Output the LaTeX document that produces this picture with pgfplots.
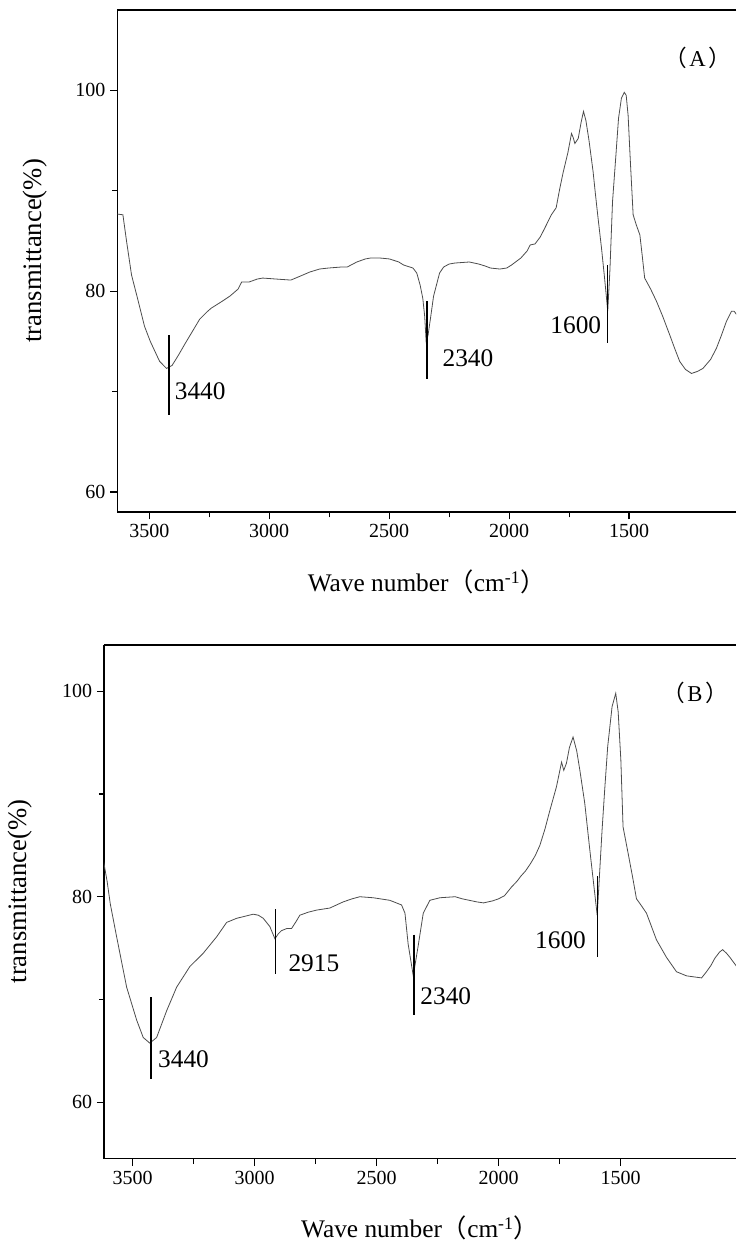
\documentclass[border=0pt]{standalone}
\usepackage{fontspec}
\setmainfont{Liberation Serif}
\newfontfamily\cjk{Noto Sans CJK SC}
\usepackage{pgfplots}
\pgfplotsset{compat=1.18}

\pgfplotsset{
  irspec/.style={
    scale only axis, anchor=south west,
    x dir=reverse,
    axis x line*=box, axis y line*=left,
    xtick pos=left, ytick pos=left,
    axis line style={black,line width=1.1pt},
    tick align=outside,
    tick style={black,line width=0.9pt},
    major tick length=5.5pt, minor tick length=4pt,
    xtick={1500,2000,2500,3000,3500}, minor x tick num=1,
    ytick={60,80,100}, minor y tick num=1,
    tick label style={font=\fontsize{15}{16}\selectfont},
    /pgf/number format/assume math mode=true,
    /pgf/number format/set thousands separator={},
    xlabel={Wave number{\cjk （}cm\textsuperscript{-1}{\cjk ）}},
    ylabel={transmittance(\%)},
    xlabel style={font=\fontsize{19}{20}\selectfont},
    ylabel style={font=\fontsize{20}{22}\selectfont},
  },
  spec/.style={black!70,line width=0.6pt,mark=none},
}
\tikzset{
  peak/.style={line width=1pt,black},
  plab/.style={font=\fontsize{19}{20}\selectfont,inner sep=1pt},
  panel/.style={font=\fontsize{17}{19}\selectfont},
}

\begin{document}
\begin{tikzpicture}
\useasboundingbox (0,0) rectangle (552pt,932.25pt);

% (A)
\begin{axis}[irspec,
  at={(88.05pt,548.25pt)}, width=464pt, height=376.5pt,
  xmin=1054, xmax=3633, ymin=58, ymax=108,
  xlabel style={at={(axis description cs:0.5,-0.139)},anchor=center},
  ylabel style={at={(axis description cs:-0.133,0.52)},anchor=center},
]
\addplot[spec] coordinates {
(3640,87.7)(3610,87.6)(3595,85)(3574,81.6)(3545,78.9)(3520,76.5)(3496,75.0)
(3457,73.0)(3428,72.3)(3405,72.6)(3379,73.6)(3350,74.8)(3320,76.0)(3290,77.2)
(3261,77.9)(3242,78.3)(3202,78.9)(3164,79.5)(3130,80.2)(3115,80.9)(3085,80.9)
(3050,81.2)(3027,81.3)(2970,81.2)(2910,81.1)(2870,81.5)(2831,81.9)(2790,82.2)
(2753,82.3)(2700,82.4)(2675,82.4)(2635,82.9)(2600,83.2)(2577,83.3)(2540,83.3)
(2498,83.2)(2460,82.9)(2440,82.6)(2401,82.3)(2385,81.8)(2371,80.6)(2360,79.3)
(2352,77.5)(2346,75.0)(2338,75.6)(2326,77.6)(2315,79.5)(2303,80.6)(2290,81.8)
(2273,82.4)(2250,82.7)(2225,82.8)(2166,82.9)(2127,82.7)(2100,82.5)(2078,82.3)
(2039,82.2)(2010,82.3)(1990,82.6)(1951,83.3)(1925,84.0)(1912,84.6)(1892,84.7)
(1870,85.4)(1853,86.2)(1824,87.6)(1804,88.3)(1789,90.2)(1775,91.8)(1755,93.8)
(1740,95.7)(1733,95.3)(1726,94.7)(1712,95.2)(1700,96.8)(1690,97.9)(1680,97.0)
(1667,95.0)(1650,91.9)(1640,89.6)(1628,87.0)(1615,84.3)(1603,81.5)(1594,79.3)
(1589,78.0)(1580,82.0)(1569,88.9)(1555,93.5)(1544,97.2)(1532,99.2)(1520,99.8)
(1512,99.5)(1504,97.5)(1494,92.6)(1483,87.6)(1470,86.6)(1455,85.6)(1445,83.5)
(1435,81.3)(1410,80.2)(1386,79.0)(1360,77.5)(1330,75.6)(1310,74.3)(1289,73.0)
(1265,72.2)(1240,71.8)(1215,72.0)(1192,72.3)(1160,73.2)(1136,74.3)(1115,75.6)
(1094,77.0)(1073,78.0)(1062,78.0)(1050,77.6)
};
\draw[peak] (axis cs:3418,75.6) -- (axis cs:3418,67.7);
\node[plab,anchor=west] at (axis cs:3400,70.0) {3440};
\draw[peak] (axis cs:2342,79.0) -- (axis cs:2342,71.2);
\node[plab,anchor=west] at (axis cs:2284,73.3) {2340};
\draw[peak] (axis cs:1589,82.6) -- (axis cs:1589,74.8);
\node[plab,anchor=east] at (axis cs:1610,76.6) {1600};
\node[panel] at (axis cs:1214,103.2) {{\cjk （}\hspace{2pt}A\hspace{2pt}{\cjk ）}};
\end{axis}

% (B)
\begin{axis}[irspec,
  at={(78.15pt,63.2pt)}, width=473.85pt, height=385.3pt,
  xmin=1027, xmax=3617, ymin=54.5, ymax=104.5,
  xlabel style={at={(axis description cs:0.5,-0.135)},anchor=center},
  ylabel style={at={(axis description cs:-0.133,0.52)},anchor=center},
]
\addplot[spec] coordinates {
(3620,83.5)(3605,81.5)(3592,79.3)(3566,76.1)(3525,71.2)(3484,68.0)(3457,66.3)
(3430,65.75)(3402,66.3)(3361,68.9)(3320,71.2)(3266,73.2)(3211,74.5)(3156,76.1)
(3115,77.5)(3074,77.9)(3040,78.1)(3006,78.3)(2985,78.2)(2965,77.9)(2938,77.1)
(2917,75.9)(2903,76.4)(2890,76.7)(2869,76.9)(2849,76.9)(2830,77.6)(2815,78.2)
(2780,78.5)(2746,78.7)(2692,78.9)(2637,79.5)(2600,79.8)(2569,80.0)(2514,79.9)
(2446,79.65)(2398,79.2)(2384,78.4)(2371,75.4)(2350,72.3)(2330,75.2)(2309,78.4)
(2282,79.65)(2241,79.9)(2178,80.0)(2150,79.8)(2120,79.65)(2090,79.5)(2062,79.4)
(2024,79.6)(2000,79.8)(1976,80.1)(1947,80.95)(1925,81.5)(1909,82.0)(1890,82.5)
(1870,83.2)(1850,84.0)(1831,85.0)(1810,86.6)(1790,88.4)(1763,90.7)(1742,93.1)
(1733,92.3)(1722,93.0)(1710,94.5)(1695,95.55)(1680,94.2)(1667,92.3)(1647,89.1)
(1626,84.5)(1606,80.3)(1596,78.2)(1588,81.5)(1576,86.5)(1565,90.5)(1553,94.6)
(1535,98.5)(1520,99.8)(1510,98.0)(1499,93.3)(1490,86.8)(1469,84.2)(1450,81.8)
(1435,79.8)(1414,79.1)(1394,78.4)(1375,77.2)(1353,75.8)(1312,74.1)(1271,72.7)
(1230,72.3)(1200,72.2)(1168,72.1)(1148,72.7)(1130,73.3)(1114,74.0)(1095,74.6)
(1082,74.85)(1066,74.5)(1052,74.1)(1027,73.3)(1020,73.0)
};
\draw[peak] (axis cs:3425,70.2) -- (axis cs:3425,62.3);
\node[plab,anchor=west] at (axis cs:3402,64.2) {3440};
\draw[peak] (axis cs:2915,78.8) -- (axis cs:2915,72.5);
\node[plab,anchor=west] at (axis cs:2868,73.5) {2915};
\draw[peak] (axis cs:2347,76.3) -- (axis cs:2347,68.45);
\node[plab,anchor=west] at (axis cs:2327,70.3) {2340};
\draw[peak] (axis cs:1595,82.0) -- (axis cs:1595,74.1);
\node[plab,anchor=east] at (axis cs:1636,75.8) {1600};
\node[panel] at (axis cs:1195,99.8) {{\cjk （}\hspace{2pt}B\hspace{2pt}{\cjk ）}};
\end{axis}
\end{tikzpicture}
\end{document}
